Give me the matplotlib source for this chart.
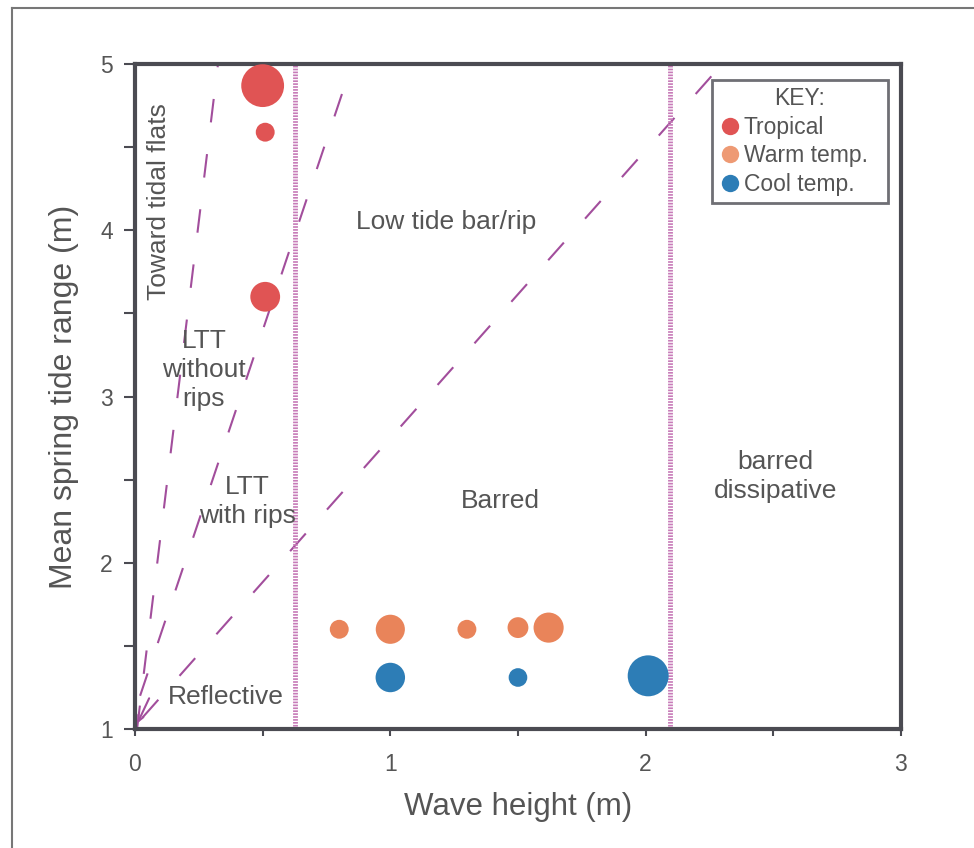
import matplotlib
matplotlib.use("Agg")
import matplotlib.pyplot as plt
from matplotlib.lines import Line2D

plt.rcParams['font.family'] = ['Liberation Sans', 'DejaVu Sans']
plt.rcParams['lines.scale_dashes'] = False

TXT = '#555555'
PURPLE = '#a24e9c'
DOT = '#c77bb8'
SPINE = '#4b4b52'

# data
trop_x = [0.50, 0.51, 0.51]
trop_y = [4.87, 4.59, 3.60]
trop_s = [950, 185, 460]

warm_x = [0.80, 1.00, 1.30, 1.50, 1.62]
warm_y = [1.60, 1.60, 1.60, 1.61, 1.61]
warm_s = [185, 440, 185, 225, 470]

cool_x = [1.00, 1.50, 2.01]
cool_y = [1.31, 1.31, 1.32]
cool_s = [450, 180, 870]

# boundary lines (x0, y0, x1, y1)
bound_A = ([0.008, 0.325], [1.0, 5.0])
bound_B = ([0.02, 0.85], [1.2, 5.0])
bound_D = ([0.03, 2.30], [1.07, 5.0])
vlines_x = [0.627, 2.094]

fig = plt.figure(figsize=(9.74, 8.48), dpi=100)
ax = fig.add_axes([0.1386, 0.1403, 0.925 - 0.1386, 0.9245 - 0.1403])
ax.set_xlim(0, 3)
ax.set_ylim(1, 5)

for xs, ys in (bound_A, bound_B, bound_D):
    ax.plot(xs, ys, color=PURPLE, lw=1.5, linestyle=(0, (17, 23)), zorder=2)

for vx in vlines_x:
    ax.axvline(vx, color=DOT, lw=3.5, linestyle=(0, (1.2, 0.9)), zorder=2)

ax.annotate('', xy=(0.005, 1.02), xytext=(0.06, 1.2),
            arrowprops=dict(arrowstyle='->', color=PURPLE, lw=1.5))

ax.scatter(trop_x, trop_y, s=trop_s, color='#e05454', edgecolors='none', zorder=3)
ax.scatter(warm_x, warm_y, s=warm_s, color='#e9845a', edgecolors='none', zorder=3)
ax.scatter(cool_x, cool_y, s=cool_s, color='#2d7db6', edgecolors='none', zorder=3)

kw = dict(color=TXT, fontsize=19, ha='center', va='center', linespacing=1.25)
ax.text(0.095, 4.17, 'Toward tidal flats', rotation=90, **kw)
ax.text(0.27, 3.16, 'LTT\nwithout\nrips', **kw)
ax.text(0.44, 2.37, 'LTT\nwith rips', **kw)
ax.text(0.357, 1.19, 'Reflective', **kw)
ax.text(1.22, 4.05, 'Low tide bar/rip', **kw)
ax.text(1.43, 2.37, 'Barred', **kw)
ax.text(2.51, 2.52, 'barred\ndissipative', **kw)

for sp in ax.spines.values():
    sp.set_color(SPINE)
    sp.set_linewidth(3)

ax.set_xticks([0, 1, 2, 3])
ax.set_xticks([0.5, 1.5, 2.5], minor=True)
ax.set_yticks([1, 2, 3, 4, 5])
ax.set_yticks([1.5, 2.5, 3.5, 4.5], minor=True)
ax.tick_params(axis='both', which='both', colors=SPINE, labelcolor=TXT,
               labelsize=16.5, direction='out', width=1.5)
ax.tick_params(axis='y', which='both', length=8, pad=8)
ax.tick_params(axis='x', which='both', length=5, pad=12)

ax.set_xlabel('Wave height (m)', fontsize=22.5, color=TXT, labelpad=12)
ax.set_ylabel('Mean spring tide range (m)', fontsize=23, color=TXT, labelpad=15)

handles = [
    Line2D([], [], marker='o', ls='none', markersize=12.5, color='#e05454', markeredgecolor='none'),
    Line2D([], [], marker='o', ls='none', markersize=12.5, color='#ee9a74', markeredgecolor='none'),
    Line2D([], [], marker='o', ls='none', markersize=12.5, color='#2d7db6', markeredgecolor='none'),
]
leg = ax.legend(handles, ['Tropical', 'Warm temp.', 'Cool temp.'], title='KEY:',
                loc='upper left', bbox_to_anchor=(0.753, 0.5, 0.23, 0.476),
                mode='expand', fontsize=16.5,
                title_fontsize=16.5, frameon=True, fancybox=False,
                handletextpad=0.1, handlelength=1.0, borderpad=0.3,
                labelspacing=0.25, borderaxespad=0, handleheight=0.7)
leg.get_frame().set_edgecolor(SPINE)
leg.get_frame().set_linewidth(2)
leg.get_title().set_color(TXT)
for t in leg.get_texts():
    t.set_color(TXT)

# outer frame
fig.add_artist(Line2D([12/974, 12/974], [0, 1 - 8/848], color='#777777', lw=1.5,
                      transform=fig.transFigure))
fig.add_artist(Line2D([12/974, 1], [1 - 8/848, 1 - 8/848], color='#777777', lw=1.5,
                      transform=fig.transFigure))

fig.savefig('out.png', dpi=100, facecolor='white')
